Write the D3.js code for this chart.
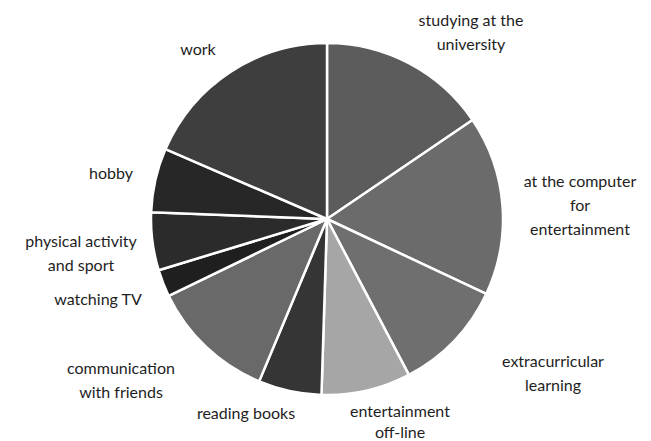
<!DOCTYPE html>
<html>
<head>
<meta charset="utf-8">
<script src="https://cdn.jsdelivr.net/npm/d3@7"></script>
<style>
html,body{margin:0;padding:0;background:#fff;}
svg{display:block;}
text{font-family:Lato,"Open Sans",sans-serif;font-size:16px;fill:#1e1e1e;}
</style>
</head>
<body>
<svg id="chart" width="651" height="441"></svg>
<script>
const categories = [
  "studying at the university",
  "at the computer for entertainment",
  "extracurricular learning",
  "entertainment off-line",
  "reading books",
  "communication with friends",
  "watching TV",
  "physical activity and sport",
  "hobby",
  "work"
];
const values = [15.5, 16.5, 10.3, 8.2, 5.8, 11.5, 2.5, 5.3, 5.9, 18.5];
const labelLines = [
  ["studying at the", "university"],
  ["at the computer", "for", "entertainment"],
  ["extracurricular", "learning"],
  ["entertainment", "off-line"],
  ["reading books"],
  ["communication", "with friends"],
  ["watching TV"],
  ["physical activity", "and sport"],
  ["hobby"],
  ["work"]
];
const colors = ["#5c5c5c","#6b6b6b","#6f6f6f","#a6a6a6","#353535","#696969","#1f1f1f","#2b2b2b","#272727","#3e3e3e"];
// label layout (first line centre) and line spacing
const labelPos = [[471,19],[580,180],[553,360],[400,410],[246,412],[121,367],[98,298],[81,240],[111,172],[198,48]];
const lineGap = [24,24,24,21,24,24,24,24,24,24];

const svg = d3.select("#chart");
const cx = 327, cy = 219, r = 176;
const g = svg.append("g").attr("transform", `translate(${cx},${cy})`);

const data = categories.map((c,i)=>({name:c, value:values[i], i}));
const pie = d3.pie().value(d=>d.value).sort(null).startAngle(0).endAngle(2*Math.PI);
const arc = d3.arc().innerRadius(0).outerRadius(r);

g.selectAll("path").data(pie(data)).join("path")
  .attr("d", arc)
  .attr("fill", d=>colors[d.data.i])
  .attr("stroke", "#fff")
  .attr("stroke-width", 2.5)
  .attr("stroke-linejoin", "round");

const lg = svg.append("g");
data.forEach((d,i)=>{
  const t = lg.append("text")
    .attr("x", labelPos[i][0])
    .attr("y", labelPos[i][1])
    .attr("text-anchor", "middle")
    .attr("dominant-baseline", "central");
  labelLines[i].forEach((line,j)=>{
    t.append("tspan").attr("x", labelPos[i][0]).attr("dy", j===0?0:lineGap[i]).text(line);
  });
});
</script>
</body>
</html>
